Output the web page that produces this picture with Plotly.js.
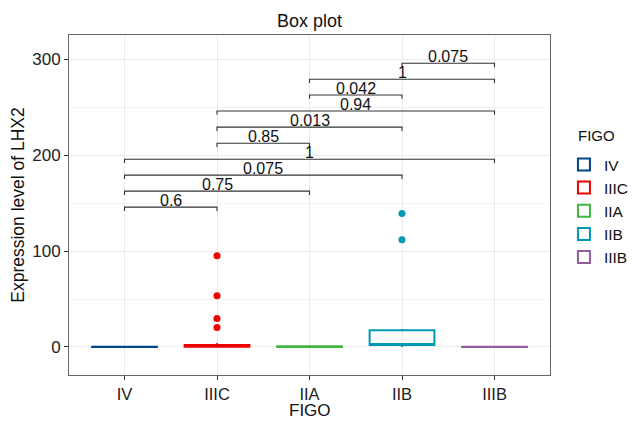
<!DOCTYPE html>
<html>
<head>
<meta charset="utf-8">
<script src="https://cdn.plot.ly/plotly-3.0.1.min.js"></script>
<style>html,body{margin:0;padding:0;background:#fff;}#chart{width:632px;height:421px;}</style>
</head>
<body>
<div id="chart"></div>
<script>
// ---- data ----
const categories = ['IV', 'IIIC', 'IIA', 'IIB', 'IIIB'];
const colors = ['#00468B', '#ED0000', '#42B540', '#0099B4', '#925E9F'];
const q1Values = [0, 0.2, 0, 2, 0];
const medianValues = [0, 0.8, 0.3, 2.6, 0];
const q3Values = [0.3, 2.2, 0.8, 17.5, 0.3];
const lowerFence = [0, 0, 0, 0, 0];
const upperFence = [0.5, 4, 1.5, 18.7, 0.5];
const outlierCats = ['IIIC', 'IIIC', 'IIIC', 'IIIC', 'IIB', 'IIB'];
const outlierValues = [95.1, 53.4, 29.8, 20.4, 139.2, 111.8];

const bracketStart = ['IV', 'IV', 'IV', 'IV', 'IIIC', 'IIIC', 'IIIC', 'IIA', 'IIA', 'IIB'];
const bracketEnd = ['IIIC', 'IIA', 'IIB', 'IIIB', 'IIA', 'IIB', 'IIIB', 'IIB', 'IIIB', 'IIIB'];
const bracketY = [145.8, 162.5, 179.2, 195.8, 212.5, 229.2, 246.1, 262.8, 279.2, 295.8];
const bracketLabel = ['0.6', '0.75', '0.075', '1', '0.85', '0.013', '0.94', '0.042', '1', '0.075'];
const tipLength = 4;
const legendTitle = 'FIGO';
const xTitle = 'FIGO';

// ---- traces ----
const traces = [];
categories.forEach((c, i) => {
  traces.push({
    type: 'box',
    name: c,
    x: [c],
    q1: [q1Values[i]],
    median: [medianValues[i]],
    q3: [q3Values[i]],
    lowerfence: [lowerFence[i]],
    upperfence: [upperFence[i]],
    width: 0.7,
    whiskerwidth: 0,
    boxpoints: false,
    line: {color: colors[i], width: 2},
    fillcolor: 'rgba(255,255,255,0)',
    legendgroup: c,
    hoverinfo: 'skip'
  });
  const ox = [], oy = [];
  outlierCats.forEach((oc, k) => { if (oc === c) { ox.push(oc); oy.push(outlierValues[k]); } });
  if (ox.length) {
    traces.push({
      type: 'scatter', mode: 'markers', x: ox, y: oy,
      marker: {color: colors[i], size: 7},
      showlegend: false, legendgroup: c, hoverinfo: 'skip'
    });
  }
});

const bx = [], by = [];
bracketStart.forEach((s, k) => {
  const e = bracketEnd[k], y = bracketY[k];
  bx.push(s, s, e, e, null);
  by.push(y - tipLength, y, y, y - tipLength, null);
});
traces.push({
  type: 'scatter', mode: 'lines', x: bx, y: by,
  line: {color: '#333333', width: 1.1},
  showlegend: false, hoverinfo: 'skip', connectgaps: false
});

const annotations = bracketStart.map((s, k) => ({
  x: (categories.indexOf(s) + categories.indexOf(bracketEnd[k])) / 2,
  y: bracketY[k],
  xref: 'x', yref: 'y',
  text: bracketLabel[k],
  showarrow: false,
  yanchor: 'bottom',
  yshift: -3,
  borderpad: 0,
  font: {family: 'Liberation Sans, Arial, sans-serif', size: 16, color: '#111'}
}));
annotations.push({
  x: 1.054, y: 0.703, xref: 'paper', yref: 'paper',
  xanchor: 'left', yanchor: 'middle', showarrow: false,
  text: legendTitle,
  font: {family: 'Liberation Sans, Arial, sans-serif', size: 15, color: '#111'}
});
annotations.push({
  x: 0.5, y: -0.103, xref: 'paper', yref: 'paper',
  xanchor: 'center', yanchor: 'middle', showarrow: false, borderpad: 0,
  text: xTitle,
  font: {family: 'Liberation Sans, Arial, sans-serif', size: 17, color: '#111'}
});

const layout = {
  width: 632, height: 421,
  margin: {l: 69, r: 82, t: 35, b: 46, autoexpand: false},
  paper_bgcolor: '#fff', plot_bgcolor: '#fff',
  font: {family: 'Liberation Sans, Arial, sans-serif', color: '#111'},
  title: {text: 'Box plot', x: 0.5, xref: 'paper', y: 1, yref: 'paper', yanchor: 'bottom', pad: {b: 8},
          font: {size: 18, color: '#111'}},
  showlegend: true,
  boxmode: 'overlay',
  xaxis: {
    type: 'category', categoryorder: 'array', categoryarray: categories,
    range: [-0.6, 4.6],
    showgrid: true, gridcolor: '#EBEBEB', gridwidth: 1,
    showline: true, mirror: true, linecolor: '#666', linewidth: 1,
    ticks: 'outside', ticklen: 4, tickcolor: '#333',
    tickfont: {size: 16.5, color: '#222'},
    zeroline: false, fixedrange: true
  },
  yaxis: {
    range: [-29.2, 325.3],
    tickvals: [0, 100, 200, 300],
    showgrid: true, gridcolor: '#EBEBEB', gridwidth: 1,
    minor: {tickvals: [50, 150, 250], showgrid: true, gridcolor: '#F4F4F4', gridwidth: 1, ticks: ''},
    showline: true, mirror: true, linecolor: '#666', linewidth: 1,
    ticks: 'outside', ticklen: 4, tickcolor: '#333',
    tickfont: {size: 17, color: '#222'},
    title: {text: 'Expression level of LHX2', font: {size: 17.5, color: '#111'}, standoff: 3},
    zeroline: false, fixedrange: true
  },
  legend: {
    x: 1.029, xanchor: 'left', y: 0.668, yanchor: 'top',
    font: {size: 15.5, color: '#111'},
    traceorder: 'grouped', tracegroupgap: 0,
    bgcolor: 'rgba(0,0,0,0)'
  },
  annotations: annotations
};

Plotly.newPlot('chart', traces, layout, {displayModeBar: false, staticPlot: true});
</script>
</body>
</html>
